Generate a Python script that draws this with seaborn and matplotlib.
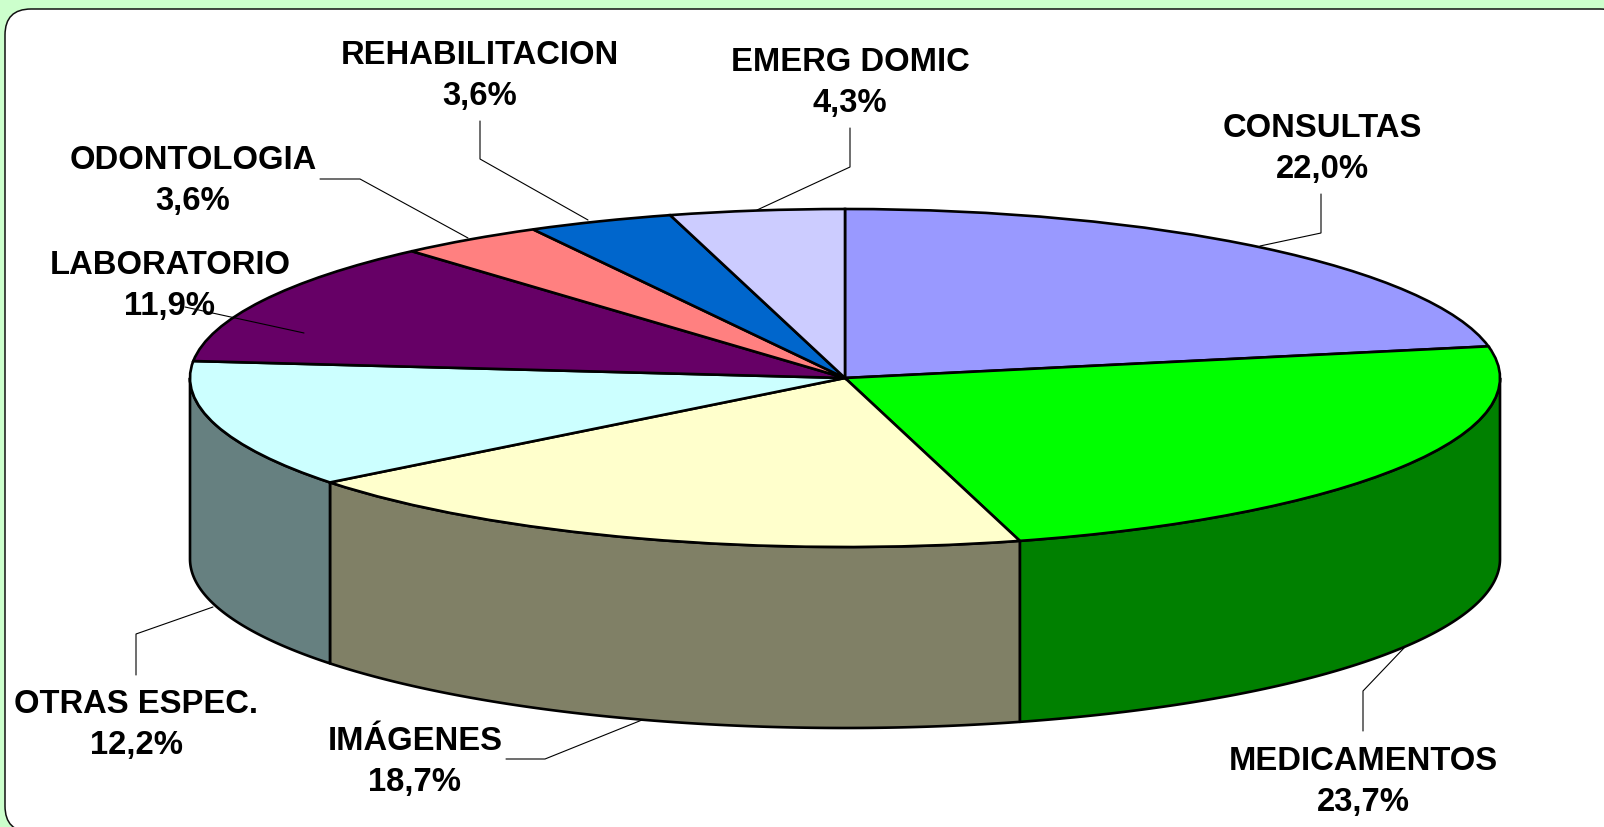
import numpy as np
import matplotlib
matplotlib.use("Agg")
import matplotlib.pyplot as plt
from matplotlib.patches import FancyBboxPatch
import seaborn as sns

# ---- data ----
categories = ["CONSULTAS", "MEDICAMENTOS", "IMÁGENES", "OTRAS ESPEC.",
              "LABORATORIO", "ODONTOLOGIA", "REHABILITACION", "EMERG DOMIC"]
values = [22.0, 23.7, 18.7, 12.2, 11.9, 3.6, 3.6, 4.3]
top_colors = ["#9999FF", "#00FF00", "#FFFFCC", "#CCFFFF",
              "#660066", "#FF8080", "#0066CC", "#CCCCFF"]
side_colors = ["#4D4D80", "#008000", "#808066", "#668080",
               "#330033", "#804040", "#003366", "#666680"]

# ---- layout (pixels) ----
W, H = 1604, 827
CX, CY, RX, RY, DEPTH = 845, 378, 655, 169, 181
label_pos = [(1322, 149), (1363, 782), (415, 762), (136, 725),
             (170, 286), (193, 181), (480, 76), (850, 83)]
leaders = [
    [(1321, 194), (1321, 233), (1260, 246)],
    [(1363, 731), (1363, 691), (1404, 648)],
    [(506, 759), (545, 759), (642, 720)],
    [(136, 675), (136, 634), (213, 607)],
    [(185, 307), (304, 333)],
    [(320, 179), (360, 179), (468, 238)],
    [(480, 121), (480, 159), (588, 220)],
    [(850, 128), (850, 167), (757, 210)],
]

sns.set_theme(style="white")
plt.rcParams["font.family"] = ["Liberation Sans", "DejaVu Sans"]
top_palette = sns.color_palette(top_colors)
side_palette = sns.color_palette(side_colors)

fig = plt.figure(figsize=(W / 100, H / 100), dpi=100, facecolor="#CCFFCC")

# rounded white panel
bg = fig.add_axes([0, 0, 1, 1], zorder=0)
bg.set_xlim(0, W)
bg.set_ylim(H, 0)
bg.axis("off")
bg.add_patch(FancyBboxPatch((5, 9), 1621, 823,
                            boxstyle="round,pad=0,rounding_size=26",
                            facecolor="white", edgecolor="#111111", linewidth=1.1))

# pie, in units of the top-ellipse radii
ax = fig.add_axes([0, 0, 1, 1], zorder=1)
ax.patch.set_alpha(0)
wedges, _ = ax.pie(values, colors=top_palette, startangle=90, counterclock=False,
                   radius=1, center=(0, 0),
                   wedgeprops=dict(edgecolor="black", linewidth=1.9))
ax.set_aspect("auto")

# side wall, from the same slice angles
depth = DEPTH / RY
fractions = np.array(values) / np.sum(values)
ends = 90 - 360 * np.cumsum(fractions)
starts = np.r_[90, ends[:-1]]
for a0, a1, col in zip(starts, ends, side_palette):
    # slice runs clockwise from a0 down to a1; keep the part in the lower half
    lo, hi = max(a1, -180), min(a0, 0)
    if hi > lo:
        th = np.radians(np.linspace(lo, hi, 200))
        xs = np.r_[np.cos(th), np.cos(th[::-1])]
        ys = np.r_[np.sin(th), np.sin(th[::-1]) - depth]
        ax.fill(xs, ys, facecolor=col, edgecolor="black", linewidth=1.9,
                zorder=0.5, joinstyle="round")
ax.set_xlim(-CX / RX, (W - CX) / RX)
ax.set_ylim((CY - H) / RY, CY / RY)

# labels and leader lines
top = fig.add_axes([0, 0, 1, 1], zorder=2)
top.patch.set_alpha(0)
top.set_xlim(0, W)
top.set_ylim(H, 0)
top.axis("off")
for name, val, (x, y), line in zip(categories, values, label_pos, leaders):
    pts = np.array(line)
    top.plot(pts[:, 0], pts[:, 1], color="black", linewidth=0.8, solid_joinstyle="miter")
    pct = f"{val:.1f}".replace(".", ",") + "%"
    top.text(x, y, f"{name}\n{pct}", ha="center", va="center", fontsize=23.6,
             fontweight="bold", color="black", linespacing=1.45)

fig.savefig("out.png", dpi=100, facecolor=fig.get_facecolor())
